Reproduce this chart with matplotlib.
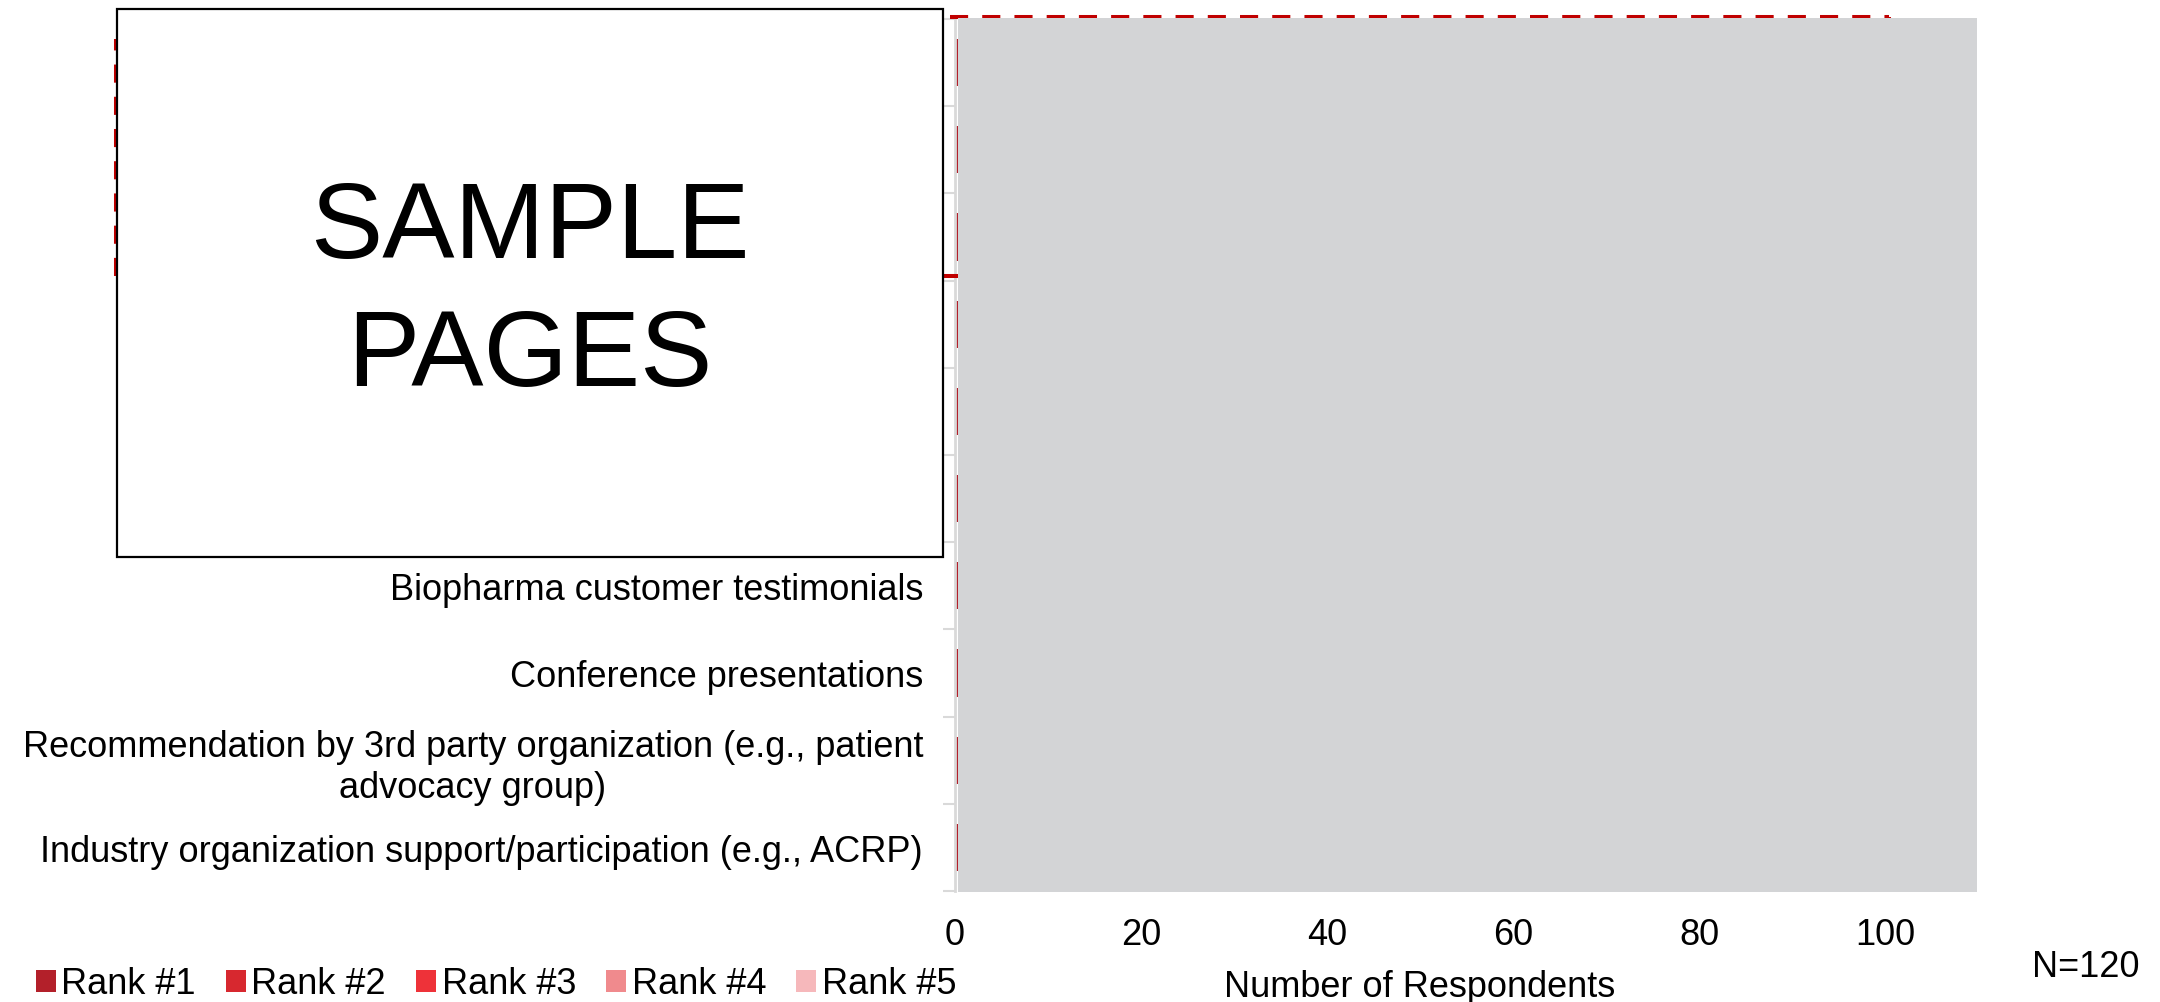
import numpy as np
import matplotlib
matplotlib.use("Agg")
from matplotlib import pyplot as plt
from matplotlib.patches import Rectangle
from matplotlib.lines import Line2D
from matplotlib.transforms import ScaledTranslation

plt.rcParams['font.family'] = ['Liberation Sans', 'DejaVu Sans']

# survey items, top to bottom (upper six are covered by the sample box)
categories = [
    "", "", "", "", "", "",
    "Biopharma customer testimonials",
    "Conference presentations",
    "Recommendation by 3rd party organization (e.g., patient\nadvocacy group)",
    "Industry organization support/participation (e.g., ACRP)",
]
rank_names = ["Rank #1", "Rank #2", "Rank #3", "Rank #4", "Rank #5"]
rank_colors = ["#B3202A", "#D7282F", "#EE3239", "#F08A8D", "#F6B8BB"]

# respondents per rank for each item (N=120)
rank1 = [38, 24, 18, 10, 8, 6, 5, 4, 4, 3]
rank2 = [22, 26, 20, 14, 12, 8, 7, 5, 3, 3]
rank3 = [16, 18, 22, 16, 14, 10, 8, 6, 5, 5]
rank4 = [12, 14, 15, 18, 16, 12, 10, 8, 7, 8]
rank5 = [9, 11, 13, 15, 17, 14, 12, 10, 9, 10]
ranks = [rank1, rank2, rank3, rank4, rank5]

FS = 26
W, H = 2160, 1003
fig = plt.figure(figsize=(W / 100, H / 100), dpi=100)

def fx(px):
    return px / W

def fy(py):
    return 1 - py / H

ax = fig.add_axes([fx(955), fy(892), fx(1885) - fx(955), fy(20) - fy(892)])

y = np.arange(len(categories))
left = np.zeros(len(categories))
for vals, name, col in zip(ranks, rank_names, rank_colors):
    ax.barh(y, vals, left=left, height=0.54, color=col, label=name, zorder=2)
    left += np.array(vals)

ax.set_xlim(0, 100)
ax.set_ylim(len(categories) - 0.5, -0.5)
ax.set_xticks(np.arange(0, 101, 20))
ax.set_yticks(y)
ax.set_yticklabels(categories, ha='right', multialignment='center')
ax.set_yticks(np.arange(-0.5, len(categories)), minor=True)

# nudge the category labels up a touch
lift = ScaledTranslation(0, 2.5 / 72, fig.dpi_scale_trans)
for lab in ax.get_yticklabels():
    lab.set_transform(lab.get_transform() + lift)

ax.tick_params(axis='x', length=0, labelsize=FS, pad=19)
ax.tick_params(axis='y', which='major', length=0, labelsize=FS, pad=23)
ax.tick_params(axis='y', which='minor', length=8.6, width=1.5,
               color='#D9D9D9', direction='out')
for s in ['top', 'right', 'bottom']:
    ax.spines[s].set_visible(False)
ax.spines['left'].set_color('#D9D9D9')
ax.spines['left'].set_linewidth(2)

ax.set_xlabel("Number of Respondents", fontsize=FS)
ax.xaxis.set_label_coords(0.5, -0.089)

# dashed highlight around the top three items
dash = dict(color='#C00000', lw=2.9, linestyle=(0, (4.5, 3.5)),
            transform=fig.transFigure, zorder=3)
for xs, ys in [([950, 1889], [18, 18]),
               ([943, 1889], [277, 277]),
               ([116, 116], [277, 40]),
               ([1889, 1889], [18, 277])]:
    fig.lines.append(Line2D([fx(v) for v in xs], [fy(v) for v in ys], **dash))

# grey cover over the plot area
fig.patches.append(Rectangle((fx(958), fy(893)), fx(1977) - fx(958), fy(19) - fy(893),
                             transform=fig.transFigure, facecolor='#D3D4D6',
                             edgecolor='none', zorder=4))
# sample box over the upper labels
fig.patches.append(Rectangle((fx(117), fy(558)), fx(943) - fx(117), fy(10) - fy(558),
                             transform=fig.transFigure, facecolor='white',
                             edgecolor='black', lw=1.6, zorder=5))
fig.text(fx(530), fy(294), "SAMPLE\nPAGES", fontsize=78, ha='center', va='center',
         linespacing=1.36, zorder=6)

fig.text(fx(2086), fy(968), "N=120", fontsize=FS, ha='center', va='center')

handles, labels = ax.get_legend_handles_labels()
fig.legend(handles, labels, loc='center left', bbox_to_anchor=(fx(36), fy(985)),
           ncol=5, frameon=False, fontsize=FS, handlelength=0.55, handleheight=0.55,
           handletextpad=0.15, columnspacing=0.84, borderpad=0, borderaxespad=0)

fig.savefig("out.png", dpi=100)
